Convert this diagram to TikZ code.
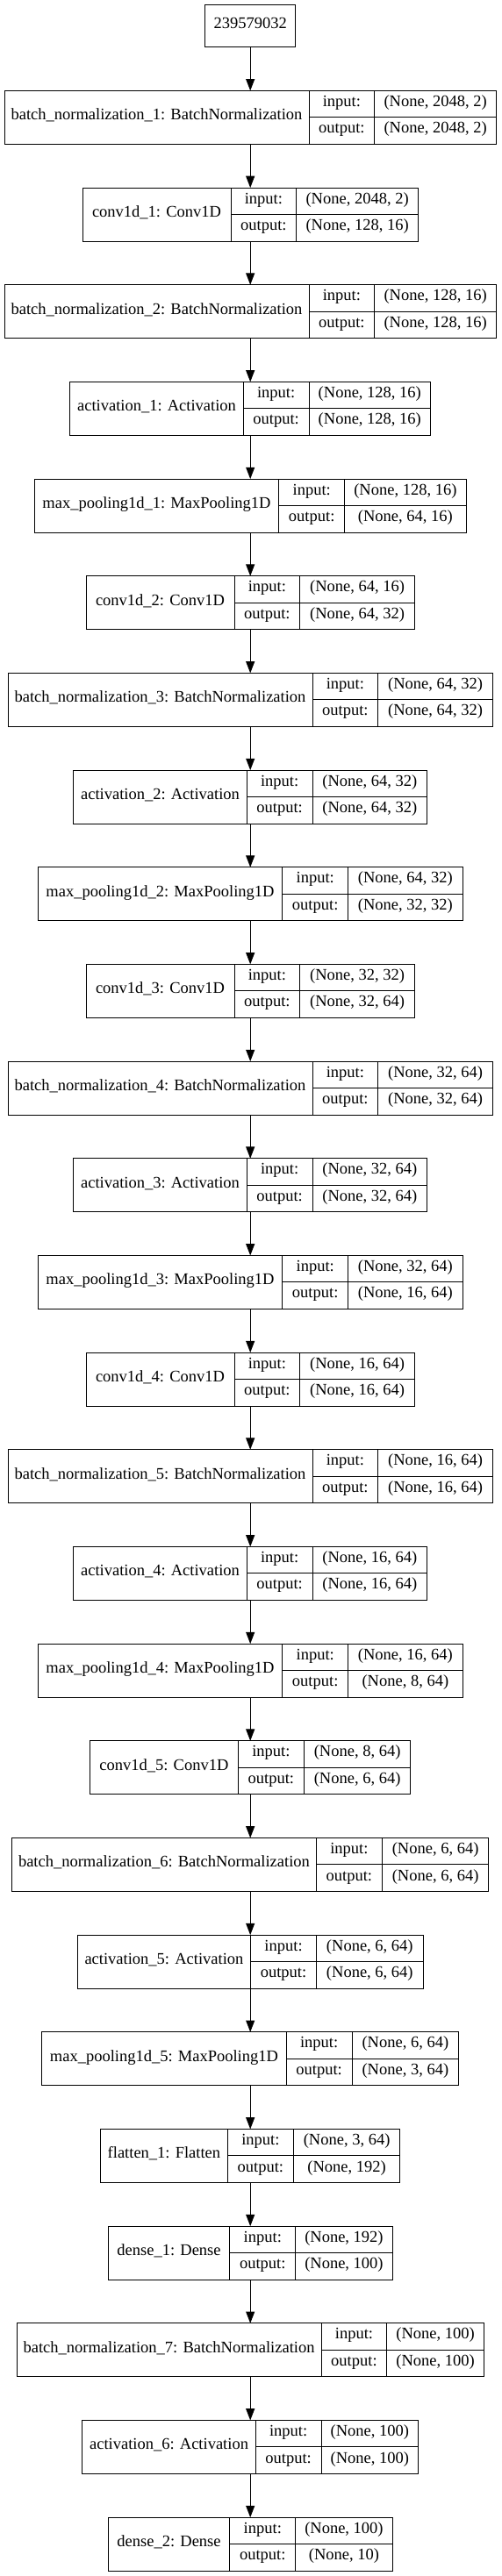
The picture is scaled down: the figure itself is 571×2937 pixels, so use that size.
\documentclass[tikz,border=0pt]{standalone}
\usepackage{fontspec}
\setmainfont{Liberation Serif}
\usetikzlibrary{arrows.meta, positioning}

% one record: name | input:/output: | shapes, hung below the previous one
\newcommand{\netlayer}[7]{%
  \pgfmathsetmacro{\rowwidth}{#4+74.8+#5}
  \node (#1) [rowbox, minimum width=\rowwidth pt, below=49.67pt of #2] {};
  \node (#1-name) [tcell, minimum width=#4pt, minimum height=61pt, anchor=north west] at (#1.north west) {#3};
  \node (#1-in) [tcell, minimum width=74.8pt, anchor=north west] at (#1-name.north east) {input:};
  \node (#1-out) [tcell, minimum width=74.8pt, anchor=north] at (#1-in.south) {output:};
  \node (#1-ins) [tcell, minimum width=#5pt, anchor=north west] at (#1-in.north east) {#6};
  \node (#1-outs) [tcell, minimum width=#5pt, anchor=north] at (#1-ins.south) {#7};
  \draw [flowarrow] (#2.south) -- (#1.north);
}

\begin{document}
\begin{tikzpicture}[font=\fontsize{18.5}{22}\selectfont]
    \tikzstyle{tcell} = [rectangle, draw=black, line width=1pt, inner sep=0pt, outer sep=0pt,
      minimum height=30.5pt, text height=0.72em, text depth=0.16em, align=center]
    \tikzstyle{rowbox} = [rectangle, inner sep=0pt, outer sep=0pt, minimum height=61pt]
    \tikzstyle{inbox} = [tcell, minimum width=102.7pt, minimum height=48pt]
    \tikzstyle{flowarrow} = [-{Triangle[length=13.3pt, width=10pt]}, line width=1pt, black]

    \fill [white] (0,0) rectangle (571pt,-2937pt);
    \useasboundingbox (0,0) rectangle (571pt,-2937pt);

    \node (input) [inbox] at (285.2pt,-29.7pt) {239579032};

    \netlayer{bn1}{input}{batch\_normalization\_1: BatchNormalization}{347}{138.6}{(None, 2048, 2)}{(None, 2048, 2)}
    \netlayer{conv1}{bn1}{conv1d\_1: Conv1D}{169}{138.6}{(None, 2048, 2)}{(None, 128, 16)}
    \netlayer{bn2}{conv1}{batch\_normalization\_2: BatchNormalization}{347}{138.6}{(None, 128, 16)}{(None, 128, 16)}
    \netlayer{act1}{bn2}{activation\_1: Activation}{197.4}{138.6}{(None, 128, 16)}{(None, 128, 16)}
    \netlayer{pool1}{act1}{max\_pooling1d\_1: MaxPooling1D}{278.6}{138.6}{(None, 128, 16)}{(None, 64, 16)}

    \netlayer{conv2}{pool1}{conv1d\_2: Conv1D}{169}{130.6}{(None, 64, 16)}{(None, 64, 32)}
    \netlayer{bn3}{conv2}{batch\_normalization\_3: BatchNormalization}{347}{130.6}{(None, 64, 32)}{(None, 64, 32)}
    \netlayer{act2}{bn3}{activation\_2: Activation}{197.4}{130.6}{(None, 64, 32)}{(None, 64, 32)}
    \netlayer{pool2}{act2}{max\_pooling1d\_2: MaxPooling1D}{278.6}{130.6}{(None, 64, 32)}{(None, 32, 32)}

    \netlayer{conv3}{pool2}{conv1d\_3: Conv1D}{169}{130.6}{(None, 32, 32)}{(None, 32, 64)}
    \netlayer{bn4}{conv3}{batch\_normalization\_4: BatchNormalization}{347}{130.6}{(None, 32, 64)}{(None, 32, 64)}
    \netlayer{act3}{bn4}{activation\_3: Activation}{197.4}{130.6}{(None, 32, 64)}{(None, 32, 64)}
    \netlayer{pool3}{act3}{max\_pooling1d\_3: MaxPooling1D}{278.6}{130.6}{(None, 32, 64)}{(None, 16, 64)}

    \netlayer{conv4}{pool3}{conv1d\_4: Conv1D}{169}{130.6}{(None, 16, 64)}{(None, 16, 64)}
    \netlayer{bn5}{conv4}{batch\_normalization\_5: BatchNormalization}{347}{130.6}{(None, 16, 64)}{(None, 16, 64)}
    \netlayer{act4}{bn5}{activation\_4: Activation}{197.4}{130.6}{(None, 16, 64)}{(None, 16, 64)}
    \netlayer{pool4}{act4}{max\_pooling1d\_4: MaxPooling1D}{278.6}{130.6}{(None, 16, 64)}{(None, 8, 64)}

    \netlayer{conv5}{pool4}{conv1d\_5: Conv1D}{169}{121.7}{(None, 8, 64)}{(None, 6, 64)}
    \netlayer{bn6}{conv5}{batch\_normalization\_6: BatchNormalization}{347}{121.7}{(None, 6, 64)}{(None, 6, 64)}
    \netlayer{act5}{bn6}{activation\_5: Activation}{197.4}{121.7}{(None, 6, 64)}{(None, 6, 64)}
    \netlayer{pool5}{act5}{max\_pooling1d\_5: MaxPooling1D}{278.6}{121.7}{(None, 6, 64)}{(None, 3, 64)}

    \netlayer{flat1}{pool5}{flatten\_1: Flatten}{145}{121.7}{(None, 3, 64)}{(None, 192)}
    \netlayer{dense1}{flat1}{dense\_1: Dense}{138.7}{110.5}{(None, 192)}{(None, 100)}
    \netlayer{bn7}{dense1}{batch\_normalization\_7: BatchNormalization}{347}{110.5}{(None, 100)}{(None, 100)}
    \netlayer{act6}{bn7}{activation\_6: Activation}{197.4}{110.5}{(None, 100)}{(None, 100)}
    \netlayer{dense2}{act6}{dense\_2: Dense}{138.7}{110.5}{(None, 100)}{(None, 10)}
\end{tikzpicture}
\end{document}
